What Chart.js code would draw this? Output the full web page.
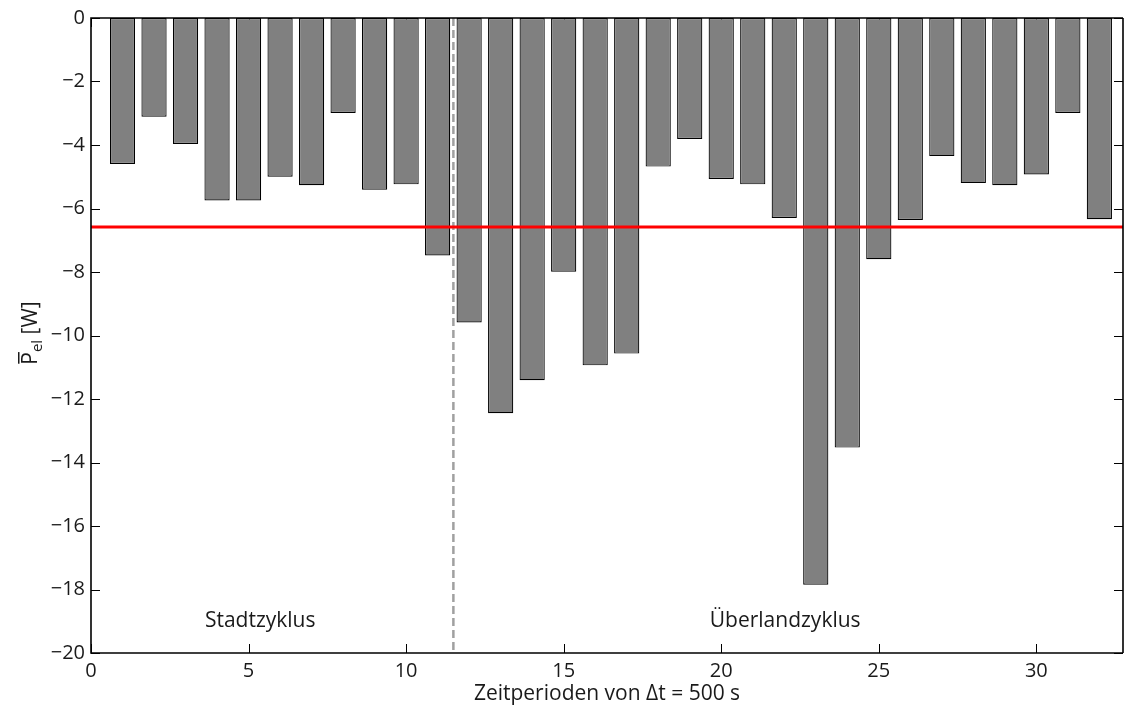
<!DOCTYPE html>
<html>
<head>
<meta charset="utf-8">
<script src="https://cdn.jsdelivr.net/npm/chart.js@4"></script>
<style>
  html, body { margin: 0; padding: 0; background: #fff; }
  #wrap { width: 1124px; height: 709px; }
</style>
</head>
<body>
<div id="wrap"><canvas id="chart" width="1124" height="709"></canvas></div>
<script>
// mean electrical power per period (W), periods 1..32
const periods = [1,2,3,4,5,6,7,8,9,10,11,12,13,14,15,16,17,18,19,20,21,22,23,24,25,26,27,28,29,30,31,32];
const power = [-4.60,-3.11,-3.97,-5.75,-5.75,-5.00,-5.27,-2.99,-5.41,-5.24,-7.48,-9.59,-12.45,-11.41,-7.99,-10.94,-10.57,
               -4.68,-3.81,-5.07,-5.24,-6.30,-17.85,-13.53,-7.60,-6.36,-4.35,-5.20,-5.27,-4.93,-2.99,-6.34];
const meanPower = -6.58;
const cycleSplit = 11.5;
const xTicks = [0,5,10,15,20,25,30];
const yTicks = [0,-2,-4,-6,-8,-10,-12,-14,-16,-18,-20];
const cycleLabels = [
  {text: 'Stadtzyklus', x: 5.37, y: -19},
  {text: 'Überlandzyklus', x: 22.03, y: -19}
];

const FONT = '"Open Sans", "Noto Sans", sans-serif';
const TXT = '#1a1a1a';

const barData = periods.map((p, i) => ({x: p, y: power[i]}));

// frame, inward ticks, annotations and axis titles
const matlabAxes = {
  id: 'matlabAxes',
  beforeDatasetsDraw(chart) {
    const {ctx, chartArea: a, scales: {x, y}} = chart;
    ctx.save();
    ctx.strokeStyle = '#000';
    ctx.lineWidth = 1;
    const tl = 9;
    yTicks.forEach(v => {
      const py = Math.round(y.getPixelForValue(v)) + 0.5;
      ctx.beginPath();
      ctx.moveTo(a.left, py); ctx.lineTo(a.left + tl, py);
      ctx.moveTo(a.right, py); ctx.lineTo(a.right - tl, py);
      ctx.stroke();
    });
    xTicks.forEach(v => {
      const px = Math.round(x.getPixelForValue(v)) + 0.5;
      ctx.beginPath();
      ctx.moveTo(px, a.bottom); ctx.lineTo(px, a.bottom - tl);
      ctx.moveTo(px, a.top); ctx.lineTo(px, a.top + tl);
      ctx.stroke();
    });
    ctx.restore();
  },
  afterDraw(chart) {
    const {ctx, chartArea: a, scales: {x, y}} = chart;
    ctx.save();
    ctx.strokeStyle = '#000';
    ctx.lineWidth = 1.6;
    ctx.beginPath();
    ctx.moveTo(a.right, a.top); ctx.lineTo(a.left, a.top);
    ctx.lineTo(a.left, a.bottom); ctx.lineTo(a.right, a.bottom);
    ctx.moveTo(a.right, a.top); ctx.lineTo(a.right, a.bottom);
    ctx.stroke();

    ctx.fillStyle = TXT;
    ctx.font = '21px ' + FONT;
    ctx.textAlign = 'center';
    ctx.textBaseline = 'middle';
    cycleLabels.forEach(l => {
      ctx.fillText(l.text, x.getPixelForValue(l.x), y.getPixelForValue(l.y));
    });

    // x axis title
    ctx.fillText('Zeitperioden von \u0394t = 500 s', (a.left + a.right) / 2, 694);

    // y axis title: P with overbar, subscript el, unit
    ctx.translate(30, 333);
    ctx.rotate(-Math.PI / 2);
    ctx.textAlign = 'left';
    ctx.textBaseline = 'alphabetic';
    const fP = '21px ' + FONT, fSub = '15px ' + FONT;
    ctx.font = fP; const wP = ctx.measureText('P').width;
    ctx.font = fSub; const wSub = ctx.measureText('el').width;
    ctx.font = fP; const wUnit = ctx.measureText(' [W]').width;
    const total = wP + wSub + wUnit;
    let cx = -total / 2;
    const base = 7;
    ctx.font = fP;
    ctx.fillText('P', cx, base);
    ctx.fillRect(cx + 1, base - 19, wP - 1, 1.5);
    cx += wP;
    ctx.font = fSub;
    ctx.fillText('el', cx, base + 5);
    cx += wSub;
    ctx.font = fP;
    ctx.fillText(' [W]', cx, base);
    ctx.restore();
  }
};

new Chart(document.getElementById('chart'), {
  data: {
    datasets: [
      {
        type: 'line',
        data: [{x: 0, y: meanPower}, {x: 32.75, y: meanPower}],
        borderColor: '#ff0000',
        borderWidth: 3,
        pointRadius: 0,
        order: 0
      },
      {
        type: 'line',
        data: [{x: cycleSplit, y: 0}, {x: cycleSplit, y: -20}],
        borderColor: '#a0a0a0',
        borderWidth: 2.5,
        borderDash: [8, 4],
        pointRadius: 0,
        order: 1
      },
      {
        type: 'bar',
        data: barData,
        backgroundColor: '#808080',
        borderColor: '#000',
        borderWidth: 1.2,
        borderSkipped: false,
        barPercentage: 0.8,
        categoryPercentage: 1,
        order: 2
      }
    ]
  },
  options: {
    responsive: false,
    animation: false,
    layout: {padding: {left: 0, right: 1, top: 16, bottom: 0}},
    plugins: {legend: {display: false}, tooltip: {enabled: false}},
    scales: {
      x: {
        type: 'linear',
        offset: false,
        min: 0,
        max: 32.75,
        grid: {display: false, drawTicks: false, offset: false},
        border: {display: false},
        afterBuildTicks: s => { s.ticks = xTicks.map(v => ({value: v})); },
        afterFit: s => { s.height = 56; },
        ticks: {
          padding: 6,
          color: TXT,
          font: {family: FONT, size: 20},
          maxRotation: 0
        }
      },
      y: {
        type: 'linear',
        min: -20,
        max: 0,
        grid: {display: false, drawTicks: false},
        border: {display: false},
        afterBuildTicks: s => { s.ticks = yTicks.map(v => ({value: v})); },
        afterFit: s => { s.width = 91; },
        ticks: {
          padding: 6,
          color: TXT,
          font: {family: FONT, size: 20},
          callback: v => String(v).replace('-', '\u2212')
        }
      }
    }
  },
  plugins: [matlabAxes]
});
</script>
</body>
</html>
